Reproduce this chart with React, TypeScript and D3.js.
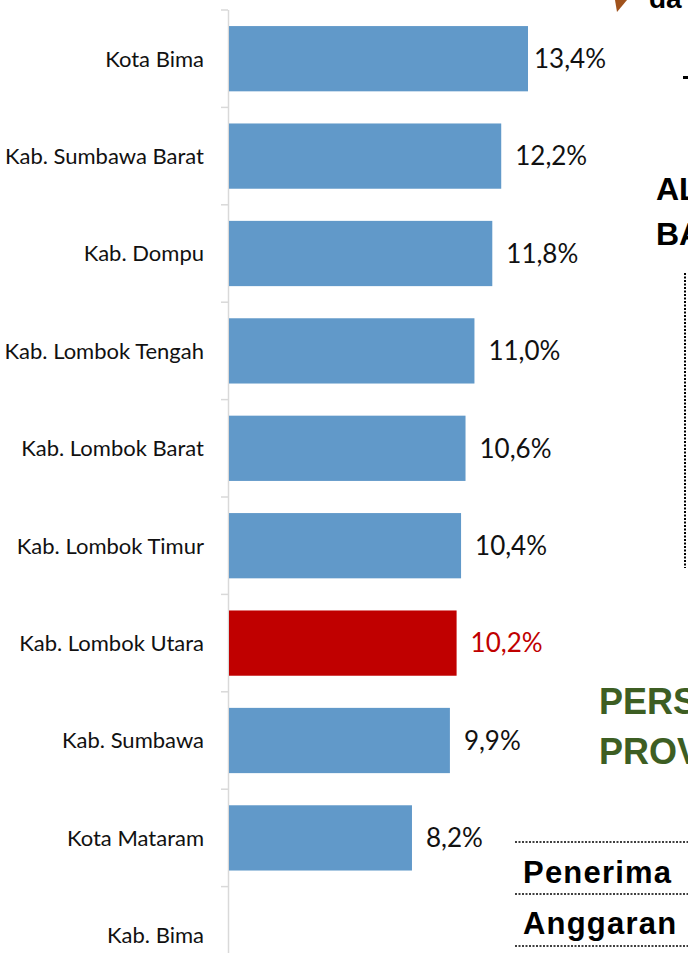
import React, { useEffect, useRef } from "react";
import * as d3 from "d3";

const categories = [
  "Kota Bima",
  "Kab. Sumbawa Barat",
  "Kab. Dompu",
  "Kab. Lombok Tengah",
  "Kab. Lombok Barat",
  "Kab. Lombok Timur",
  "Kab. Lombok Utara",
  "Kab. Sumbawa",
  "Kota Mataram",
  "Kab. Bima",
];
const values: (number | null)[] = [13.4, 12.2, 11.8, 11.0, 10.6, 10.4, 10.2, 9.9, 8.2, null];
const highlight = "Kab. Lombok Utara";

const W = 688;
const H = 953;

export default function App() {
  const ref = useRef<SVGSVGElement>(null);
  useEffect(() => {
    const svg = d3.select(ref.current);
    svg.selectAll("*").remove();

    const x0 = 229;
    const x = d3.scaleLinear().domain([0, 13.4]).range([x0, 528]);
    const y = d3.scaleBand().domain(categories).range([10, 10 + 97.4 * categories.length]).paddingInner(0.33).paddingOuter(0.165);
    const step = y.step();

    const font = "Lato, 'Open Sans', sans-serif";

    svg.append("line").attr("x1", 228.5).attr("x2", 228.5).attr("y1", 10).attr("y2", H).attr("stroke", "#d9d9d9").attr("stroke-width", 1.5);
    categories.forEach((c, i) => {
      const yy = 10 + step * i;
      svg.append("line").attr("x1", 221).attr("x2", 228).attr("y1", yy).attr("y2", yy).attr("stroke", "#d9d9d9").attr("stroke-width", 1.5);
    });

    const data = categories.map((c, i) => ({ c, v: values[i] }));

    svg.selectAll("rect.bar").data(data.filter((d) => d.v != null)).enter().append("rect")
      .attr("class", "bar")
      .attr("x", x0)
      .attr("y", (d) => y(d.c) as number)
      .attr("width", (d) => x(d.v as number) - x0)
      .attr("height", y.bandwidth())
      .attr("fill", (d) => (d.c === highlight ? "#c00000" : "#6199c9"));

    const labels = svg.selectAll("text.val").data(data.filter((d) => d.v != null)).enter().append("text")
      .attr("class", "val")
      .attr("y", (d) => (y(d.c) as number) + y.bandwidth() / 2)
      .attr("dy", "0.36em")
      .attr("font-family", font)
      .attr("font-size", 26)
      .attr("fill", (d) => (d.c === highlight ? "#c00000" : "#111"))
      .text((d) => (d.v as number).toFixed(1).replace(".", ",") + "%");
    labels.each(function (d) {
      const el = this as SVGTextElement;
      const w = el.getComputedTextLength();
      const px = Math.min(x(d.v as number) + 14, 606 - w);
      d3.select(el).attr("x", px);
    });

    svg.selectAll("text.cat").data(data).enter().append("text")
      .attr("class", "cat")
      .attr("x", 204)
      .attr("y", (d) => 10 + step * categories.indexOf(d.c) + step / 2)
      .attr("dy", "0.36em")
      .attr("text-anchor", "end")
      .attr("font-family", font)
      .attr("font-size", 22)
      .attr("fill", "#111")
      .text((d) => d.c);

    // background slide fragments on the right
    const bold = "'Liberation Sans', Arial, sans-serif";
    svg.append("path").attr("d", "M615,0 L627,0 L617,12 Z").attr("fill", "#a0521c");
    svg.append("text").attr("x", 649).attr("y", 8).attr("font-family", bold).attr("font-weight", "bold").attr("font-size", 28).attr("fill", "#000").text("da");
    svg.append("rect").attr("x", 683).attr("y", 76).attr("width", 6).attr("height", 3).attr("fill", "#000");
    svg.append("text").attr("x", 656).attr("y", 200).attr("font-family", bold).attr("font-weight", "bold").attr("font-size", 32).attr("fill", "#000").text("AL");
    svg.append("text").attr("x", 656).attr("y", 245).attr("font-family", bold).attr("font-weight", "bold").attr("font-size", 32).attr("fill", "#000").text("BA");
    svg.append("line").attr("x1", 685).attr("x2", 685).attr("y1", 273).attr("y2", 568).attr("stroke", "#000").attr("stroke-width", 2).attr("stroke-dasharray", "2,1.5");
    svg.append("text").attr("x", 599).attr("y", 714).attr("font-family", bold).attr("font-weight", "bold").attr("font-size", 36).attr("fill", "#3d5e23").text("PERS");
    svg.append("text").attr("x", 599).attr("y", 764).attr("font-family", bold).attr("font-weight", "bold").attr("font-size", 36).attr("fill", "#3d5e23").text("PROV");
    [842, 894, 946].forEach((yy) => {
      svg.append("line").attr("x1", 515).attr("x2", W).attr("y1", yy).attr("y2", yy).attr("stroke", "#000").attr("stroke-width", 1.5).attr("stroke-dasharray", "2,1.5");
    });
    svg.append("text").attr("x", 523).attr("y", 883).attr("font-family", bold).attr("font-weight", "bold").attr("font-size", 31).attr("letter-spacing", 1.2).attr("fill", "#000").text("Penerima");
    svg.append("text").attr("x", 523).attr("y", 934).attr("font-family", bold).attr("font-weight", "bold").attr("font-size", 31).attr("letter-spacing", 1.2).attr("fill", "#000").text("Anggaran");
  }, []);

  return (
    <svg ref={ref} width={W} height={H} style={{ position: "absolute", left: 0, top: 0, background: "#fff", overflow: "hidden" }} />
  );
}
